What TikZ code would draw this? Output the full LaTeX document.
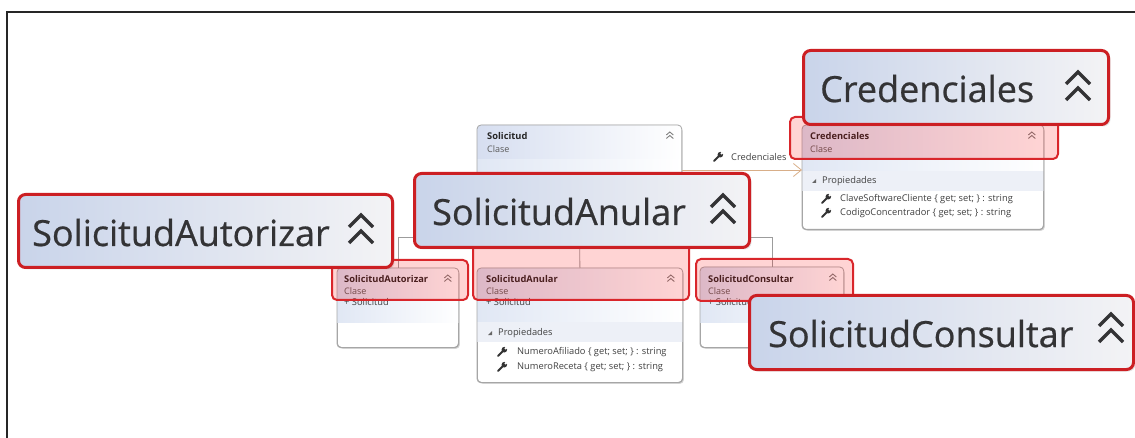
\documentclass[tikz,border=0pt]{standalone}
\usepackage{fontspec}
\setmainfont{Open Sans}
\usetikzlibrary{shadows,calc,arrows.meta}
\definecolor{calred}{HTML}{CC1F23}
\definecolor{calL}{HTML}{C9D4EA}
\definecolor{calR}{HTML}{F3F3F5}
\definecolor{txtdark}{HTML}{333335}
\definecolor{boxgray}{HTML}{A6A6A6}
\definecolor{hdrL}{HTML}{D6DEF0}
\definecolor{bandL}{HTML}{E0E7F4}
\definecolor{proprow}{HTML}{EDF0F7}
\definecolor{hlred}{HTML}{D9262B}
\definecolor{assoc}{HTML}{D8AE88}
\definecolor{inhgray}{HTML}{9C9C9C}
\tikzset{
  frameline/.style={line width=2pt, draw=black!85},
  classbox/.style={draw=boxgray, fill=white, rounded corners=4pt, line width=0.8pt, anchor=north west, inner sep=0pt,
    drop shadow={shadow xshift=1.5pt, shadow yshift=-1.5pt, opacity=.3}},
  classline/.style={draw=boxgray, rounded corners=4pt, line width=0.8pt},
  hdr/.style={left color=hdrL, right color=white},
  band/.style={left color=bandL, right color=white},
  prow/.style={fill=proprow},
  cname/.style={font=\fontsize{9.3}{11}\selectfont\bfseries, text=black!85, anchor=west, inner sep=0pt},
  ckind/.style={font=\fontsize{9}{11}\selectfont, text=black!65, anchor=west, inner sep=0pt},
  ptext/.style={font=\fontsize{9.3}{11}\selectfont, text=black!75, anchor=west, inner sep=0pt},
  hl/.style={draw=hlred, line width=2pt, fill=red, fill opacity=0.17, rounded corners=5pt},
  callout/.style={draw=calred, line width=3pt, rounded corners=7pt, left color=calL, right color=calR,
    anchor=north west, inner sep=0pt, drop shadow={shadow xshift=2pt, shadow yshift=-2pt, opacity=.2}},
  bigtxt/.style={font=\fontsize{36}{40}\selectfont\addfontfeature{FakeBold=0.6}, text=txtdark, anchor=base west, inner sep=0pt},
  inh/.style={draw=inhgray, line width=0.8pt},
  assocline/.style={draw=assoc, line width=0.8pt, -{Straight Barb[length=8pt,width=13pt,line width=0.8pt]}},
  bigchev/.pic={\draw[txtdark, line width=3.3pt] (-12,12) -- (0,0) -- (12,12) (-12,28) -- (0,16) -- (12,28);},
  smallchev/.pic={\draw[black!50, line width=0.9pt] (-3.5,3) -- (0,0) -- (3.5,3) (-3.5,6.5) -- (0,3.5) -- (3.5,6.5);},
  wrench/.pic={\draw[black!80, line width=1.8pt, line cap=round] (-4,4) -- (1,-1);
    \fill[black!80] (2.3,-2.3) circle (2.8);
    \fill[white] (3.8,-3.8) circle (1.4);},
  tri/.pic={\fill[black!60] (2,-2) -- (2,2) -- (-2,2) -- cycle;}
}
\begin{document}
\begin{tikzpicture}[x=1pt,y=-1pt]
\useasboundingbox (0,0) rectangle (1135,438);
\draw[frameline] (6.5,438) -- (6.5,12) -- (1135,12);

% ---------- Solicitud
\node[classbox, minimum width=204, minimum height=80] (sol) at (477,125) {};
\begin{scope}
\clip[rounded corners=4pt] (sol.north west) rectangle (sol.south east);
\path[hdr] (sol.north west) rectangle ($(sol.north east)+(0,35)$);
\path[band] ($(sol.north west)+(0,35)$) rectangle (sol.south east);
\end{scope}
\draw[classline] (sol.north west) rectangle (sol.south east);
\node[cname] (solN) at ($(sol.north west)+(10,11)$) {Solicitud};
\node[ckind] (solK) at ($(sol.north west)+(10,24)$) {Clase};
\pic at ($(sol.north east)+(-12,7)$) {smallchev};

% ---------- Credenciales
\node[classbox, minimum width=241, minimum height=104] (cred) at (802,125) {};
\begin{scope}
\clip[rounded corners=4pt] (cred.north west) rectangle (cred.south east);
\path[hdr] (cred.north west) rectangle ($(cred.north east)+(0,34)$);
\path[band] ($(cred.north west)+(0,34)$) rectangle ($(cred.north east)+(0,46)$);
\path[prow] ($(cred.north west)+(0,46)$) rectangle ($(cred.north east)+(0,66)$);
\end{scope}
\draw[classline] (cred.north west) rectangle (cred.south east);
\node[cname] (credN) at ($(cred.north west)+(8,11)$) {Credenciales};
\node[ckind] (credK) at ($(cred.north west)+(8,24)$) {Clase};
\pic at ($(cred.north east)+(-12,7)$) {smallchev};
\pic at ($(cred.north west)+(12,56)$) {tri};
\node[ptext] (credP) at ($(cred.north west)+(20,56)$) {Propiedades};
\pic at ($(cred.north west)+(24,74)$) {wrench};
\node[ptext] (credP1) at ($(cred.north west)+(38,74)$) {ClaveSoftwareCliente \{ get; set; \} : string};
\pic at ($(cred.north west)+(24,88)$) {wrench};
\node[ptext] (credP2) at ($(cred.north west)+(38,88)$) {CodigoConcentrador \{ get; set; \} : string};

% ---------- SolicitudAutorizar
\node[classbox, minimum width=121, minimum height=79] (aut) at (337,268) {};
\begin{scope}
\clip[rounded corners=4pt] (aut.north west) rectangle (aut.south east);
\path[hdr] (aut.north west) rectangle ($(aut.north east)+(0,32)$);
\path[band] ($(aut.north west)+(0,32)$) rectangle ($(aut.north east)+(0,54)$);
\end{scope}
\draw[classline] (aut.north west) rectangle (aut.south east);
\node[cname] (autN) at ($(aut.north west)+(7,11)$) {SolicitudAutorizar};
\node[ckind] (autK) at ($(aut.north west)+(7,23)$) {Clase};
\pic at ($(aut.north east)+(-11,7)$) {smallchev};
\node[ptext] (autS) at ($(aut.north west)+(7,34)$) {+ Solicitud};

% ---------- SolicitudAnular
\node[classbox, minimum width=205, minimum height=114] (anu) at (477,268) {};
\begin{scope}
\clip[rounded corners=4pt] (anu.north west) rectangle (anu.south east);
\path[hdr] (anu.north west) rectangle ($(anu.north east)+(0,32)$);
\path[band] ($(anu.north west)+(0,32)$) rectangle ($(anu.north east)+(0,54)$);
\path[prow] ($(anu.north west)+(0,54)$) rectangle ($(anu.north east)+(0,74)$);
\end{scope}
\draw[classline] (anu.north west) rectangle (anu.south east);
\node[cname] (anuN) at ($(anu.north west)+(9,11)$) {SolicitudAnular};
\node[ckind] (anuK) at ($(anu.north west)+(9,23)$) {Clase};
\pic at ($(anu.north east)+(-12,7)$) {smallchev};
\node[ptext] (anuS) at ($(anu.north west)+(9,34)$) {+ Solicitud};
\pic at ($(anu.north west)+(13,65)$) {tri};
\node[ptext] (anuP) at ($(anu.north west)+(21,65)$) {Propiedades};
\pic at ($(anu.north west)+(25,84)$) {wrench};
\node[ptext] (anuP1) at ($(anu.north west)+(40,84)$) {NumeroAfiliado \{ get; set; \} : string};
\pic at ($(anu.north west)+(25,99)$) {wrench};
\node[ptext] (anuP2) at ($(anu.north west)+(40,99)$) {NumeroReceta \{ get; set; \} : string};

% ---------- SolicitudConsultar
\node[classbox, minimum width=143, minimum height=80] (con) at (700,267) {};
\begin{scope}
\clip[rounded corners=4pt] (con.north west) rectangle (con.south east);
\path[hdr] (con.north west) rectangle ($(con.north east)+(0,33)$);
\path[band] ($(con.north west)+(0,33)$) rectangle ($(con.north east)+(0,55)$);
\end{scope}
\draw[classline] (con.north west) rectangle (con.south east);
\node[cname] (conN) at ($(con.north west)+(8,12)$) {SolicitudConsultar};
\node[ckind] (conK) at ($(con.north west)+(8,24)$) {Clase};
\pic at ($(con.north east)+(-11,7)$) {smallchev};
\node[ptext] (conS) at ($(con.north west)+(8,35)$) {+ Solicitud};

% ---------- connectors
\coordinate (bus) at (579,237);
\draw[inh] (sol.south) -- (anu.north);
\draw[inh] (aut.north) -- (aut.north |- bus) -- (con.north |- bus) -- (con.north);
\coordinate (astart) at ($(sol.north east)+(0,45)$);
\draw[assocline] (astart) -- (cred.west |- astart);
\pic at (718,157) {wrench};
\node[ptext] (alabel) at (731,157) {Credenciales};

% ---------- highlights
\path[hl] (790,117) rectangle (1058,159);
\path[hl] (332,260) rectangle (468,300);
\path[hl] (473,190) rectangle (689,300);
\path[hl] (696,259) rectangle (853,301);

% ---------- callouts
\node[callout, minimum width=305, minimum height=74] (cCred) at (802,49) {};
\node[bigtxt] (tCred) at ($(cCred.north west)+(18,53)$) {Credenciales};
\pic at ($(cCred.north east)+(-32,23)$) {bigchev};

\node[callout, minimum width=374, minimum height=73] (cAut) at (17,193) {};
\node[bigtxt] (tAut) at ($(cAut.north west)+(15,53)$) {SolicitudAutorizar};
\pic at ($(cAut.north east)+(-33,22)$) {bigchev};

\node[callout, minimum width=335, minimum height=74] (cAnu) at (413,172) {};
\node[bigtxt] (tAnu) at ($(cAnu.north west)+(19,53)$) {SolicitudAnular};
\pic at ($(cAnu.north east)+(-28,23)$) {bigchev};

\node[callout, minimum width=384, minimum height=74] (cCon) at (748,294) {};
\node[bigtxt] (tCon) at ($(cCon.north west)+(20,53)$) {SolicitudConsultar};
\pic at ($(cCon.north east)+(-24,20)$) {bigchev};
\end{tikzpicture}
\end{document}
